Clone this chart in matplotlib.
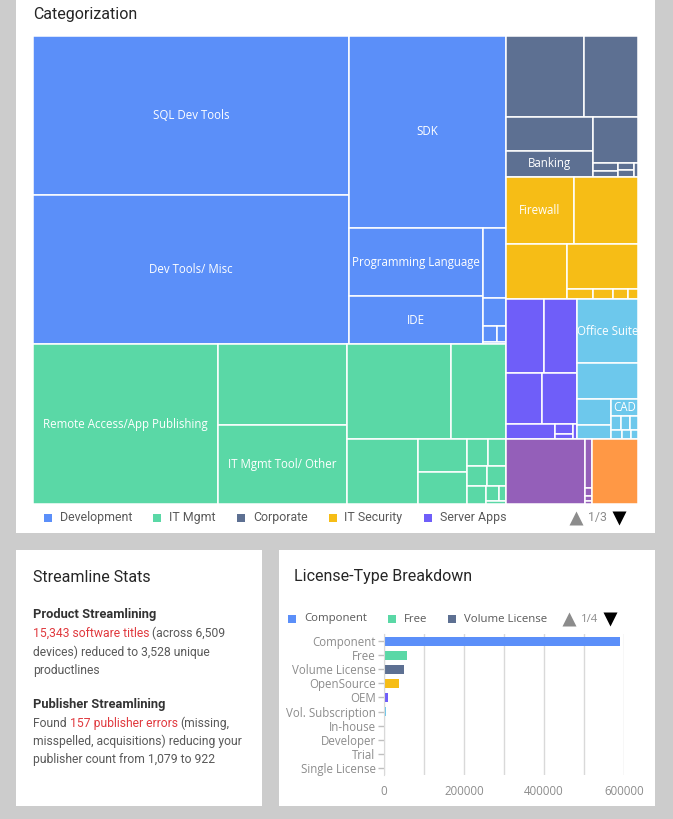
import numpy as np
import matplotlib
matplotlib.use('Agg')
import matplotlib.pyplot as plt
from matplotlib.patches import Rectangle

W, H = 673, 819

# AntV style colour cycle used by the dashboard
palette = ['#5B8FF9', '#5AD8A6', '#5D7092', '#F6BD16', '#6F5EF9',
           '#6DC8EC', '#945FB9', '#FF9845', '#1E9493', '#FF99C3']

# --- treemap data (software titles per category / product group) ---
categories = ['Development', 'IT Mgmt', 'Corporate', 'IT Security', 'Server Apps',
              'Office', 'Multimedia', 'Utilities']

dev_names = ['SQL Dev Tools', 'Dev Tools/ Misc', 'SDK', 'Programming Language', 'IDE',
             '', '', '', '', '']
dev_values = [50244, 47400, 30144, 9246, 6432, 1633, 644, 228, 138, 48]

itm_names = ['Remote Access/App Publishing', '', 'IT Mgmt Tool/ Other', '', '', '',
             '', '', '', '', '', '', '', '', '', '']
itm_values = [29600, 10400, 10240, 9880, 5225, 4615, 1617, 1568, 567, 486, 400, 380,
              342, 200, 100, 60]

corp_names = ['', '', '', 'Banking', '', '', '', '', '', '']
corp_values = [6318, 4374, 2958, 2262, 2070, 200, 150, 120, 100, 60]

sec_names = ['Firewall', '', '', '', '', '', '', '']
sec_values = [4556, 4288, 3416, 3266, 260, 200, 150, 100]

srv_names = ['', '', '', '', '', '', '', '']
srv_values = [2812, 2442, 1836, 1785, 728, 190, 90, 57]

off_names = ['Office Suite', '', '', '', 'CAD', '', '', '', '', '', '']
off_values = [3900, 2200, 860, 480, 470, 150, 130, 110, 100, 80, 60]

mm_names = ['', '', '', '', '']
mm_values = [5135, 342, 60, 35, 18]

util_names = ['']
util_values = [2990]

leaf_names = [dev_names, itm_names, corp_names, sec_names, srv_names,
              off_names, mm_names, util_names]
leaf_values = [dev_values, itm_values, corp_values, sec_values, srv_values,
               off_values, mm_values, util_values]

# --- license type data ---
license_types = ['Component', 'Free', 'Volume License', 'OpenSource', 'OEM',
                 'Vol. Subscription', 'In-house', 'Developer', 'Trial', 'Single License']
license_counts = [590000, 57500, 50000, 37000, 10000, 4000, 3500, 3000, 2000, 1000]
license_ticks = [0, 200000, 400000, 600000]
license_minor = [100000, 300000, 500000]

PHI = (1 + 5 ** 0.5) / 2


def squarify(values, x0, y0, x1, y1, ratio=PHI):
    """same tiling as d3.treemapSquarify, values must be sorted desc"""
    n = len(values)
    rects = [None] * n
    value = float(sum(values))
    i0 = i1 = 0
    while i0 < n:
        dx, dy = x1 - x0, y1 - y0
        sum_v = values[i1]
        i1 += 1
        min_v = max_v = sum_v
        alpha = max(dy / dx, dx / dy) / (value * ratio)
        beta = sum_v * sum_v * alpha
        min_ratio = max(max_v / beta, beta / min_v)
        while i1 < n:
            nv = values[i1]
            sum_v += nv
            min_v = min(min_v, nv)
            max_v = max(max_v, nv)
            beta = sum_v * sum_v * alpha
            new_ratio = max(max_v / beta, beta / min_v)
            if new_ratio > min_ratio:
                sum_v -= nv
                break
            min_ratio = new_ratio
            i1 += 1
        if dx < dy:
            ny = y0 + dy * sum_v / value
            x = x0
            for j in range(i0, i1):
                w = dx * values[j] / sum_v
                rects[j] = (x, y0, x + w, ny)
                x += w
            y0 = ny
        else:
            nx = x0 + dx * sum_v / value
            y = y0
            for j in range(i0, i1):
                h = dy * values[j] / sum_v
                rects[j] = (x0, y, nx, y + h)
                y += h
            x0 = nx
        value -= sum_v
        i0 = i1
    return rects


fig = plt.figure(figsize=(W / 100, H / 100), dpi=100)
fig.patch.set_facecolor('#cccccc')
renderer = fig.canvas.get_renderer()

# background axes in pixel coordinates (y down)
bg = fig.add_axes([0, 0, 1, 1])
bg.set_xlim(0, W)
bg.set_ylim(H, 0)
bg.axis('off')

for (px, py, pw, ph) in [(16, -2, 639, 535), (16, 550, 246, 256), (279, 550, 376, 256)]:
    bg.add_patch(Rectangle((px, py), pw, ph, facecolor='white', lw=0))

TITLE = dict(family='Roboto', fontsize=11.5, color='#262626', va='center', ha='left')
bg.text(33, 14, 'Categorization', **TITLE)
bg.text(33, 577, 'Streamline Stats', **TITLE)
bg.text(294, 577, 'License-Type Breakdown', **TITLE)


def text_w(t):
    return t.get_window_extent(renderer).width


def legend_row(x, y, labels, colors, family, size, gap):
    for lab, col in zip(labels, colors):
        bg.add_patch(Rectangle((x, y - 4), 8, 8, facecolor=col, lw=0))
        t = bg.text(x + 16, y, lab, family=family, fontsize=size, color='#595959',
                    va='center', ha='left')
        x += 16 + text_w(t) + gap


def pager(x, y, label, family, size):
    bg.plot([x], [y], marker='^', ms=10, color='#8c8c8c', mec='none')
    t = bg.text(x + 12, y, label, family=family, fontsize=size, color='#8c8c8c',
                va='center', ha='left')
    bg.plot([x + 12 + text_w(t) + 12], [y], marker='v', ms=10, color='black', mec='none')


# --- treemap ---
tx0, ty0, tx1, ty1 = 33, 36, 638, 504
tax = fig.add_axes([tx0 / W, 1 - ty1 / H, (tx1 - tx0) / W, (ty1 - ty0) / H])
tax.set_xlim(0, 1)
tax.set_ylim(1, 0)
tax.axis('off')

cat_totals = [sum(v) for v in leaf_values]
cat_rects = squarify(cat_totals, 0, 0, 1, 1)
for ci, (cx0, cy0, cx1, cy1) in enumerate(cat_rects):
    vals = leaf_values[ci]
    names = leaf_names[ci]
    for name, (lx0, ly0, lx1, ly1) in zip(names, squarify(vals, cx0, cy0, cx1, cy1)):
        r = Rectangle((lx0, ly0), lx1 - lx0, ly1 - ly0, facecolor=palette[ci],
                      edgecolor='white', lw=1.1)
        tax.add_patch(r)
        if name:
            t = tax.text((lx0 + lx1) / 2, (ly0 + ly1) / 2, name, ha='center', va='center',
                         color='white', family='Open Sans', fontsize=8.3)
            t.set_clip_path(r)

legend_row(44, 518, categories[:5], palette[:5], 'Roboto', 8.9, 21)
pager(576, 518, '1/3', 'Roboto', 8.9)

# --- streamline stats ---
BODY = dict(family='Roboto', fontsize=8.7, va='baseline', ha='left')
RED = '#e0393e'
GREY = '#595959'
m1 = bg.text(0, 300, 'a a', **BODY)
m2 = bg.text(0, 300, 'aa', **BODY)
sp = text_w(m1) - text_w(m2)
m1.remove()
m2.remove()


def rich_line(x, y, parts):
    for txt, col in parts:
        t = bg.text(x, y, txt, color=col, **BODY)
        x += text_w(t) + sp


HEAD = dict(family='Roboto', fontsize=9.3, fontweight='bold', color='#333333',
            va='baseline', ha='left')
bg.text(33, 618, 'Product Streamlining', **HEAD)
rich_line(33, 637, [('15,343 software titles', RED), ('(across 6,509', GREY)])
rich_line(33, 656, [('devices) reduced to 3,528 unique', GREY)])
rich_line(33, 674, [('productlines', GREY)])
bg.text(33, 708, 'Publisher Streamlining', **HEAD)
rich_line(33, 727, [('Found', GREY), ('157 publisher errors', RED), ('(missing,', GREY)])
rich_line(33, 745, [('misspelled, acquisitions) reducing your', GREY)])
rich_line(33, 763, [('publisher count from 1,079 to 922', GREY)])

# --- license type bars ---
legend_row(288, 619, license_types[:3], palette[:3], 'Open Sans', 8.2, 21)
pager(569, 619, '1/4', 'Open Sans', 8.2)

bax = fig.add_axes([384 / W, 1 - 775 / H, 240 / W, 141 / H])
ypos = np.arange(len(license_types))
bax.barh(ypos, license_counts, height=0.64, color=palette[:len(license_types)])
bax.set_ylim(len(license_types) - 0.5, -0.5)
bax.set_xlim(0, 600000)
bax.set_xticks(license_ticks)
bax.set_xticklabels([str(v) for v in license_ticks])
bax.set_xticks(license_minor, minor=True)
bax.set_yticks(ypos)
bax.set_yticklabels(license_types)
bax.grid(axis='x', which='both', color='#d9d9d9', lw=1)
bax.set_axisbelow(True)
for s in ['top', 'right', 'bottom']:
    bax.spines[s].set_visible(False)
bax.spines['left'].set_color('#d9d9d9')
bax.tick_params(axis='y', length=4, width=1, color='#bfbfbf', labelcolor='#8c8c8c', pad=2)
bax.tick_params(axis='x', which='both', length=0, labelcolor='#8c8c8c', pad=7)
for lab in bax.get_xticklabels() + bax.get_yticklabels():
    lab.set_family('Open Sans')
    lab.set_fontsize(8.3)
bax.set_facecolor('white')

fig.savefig('out.png', dpi=100, facecolor=fig.get_facecolor())
